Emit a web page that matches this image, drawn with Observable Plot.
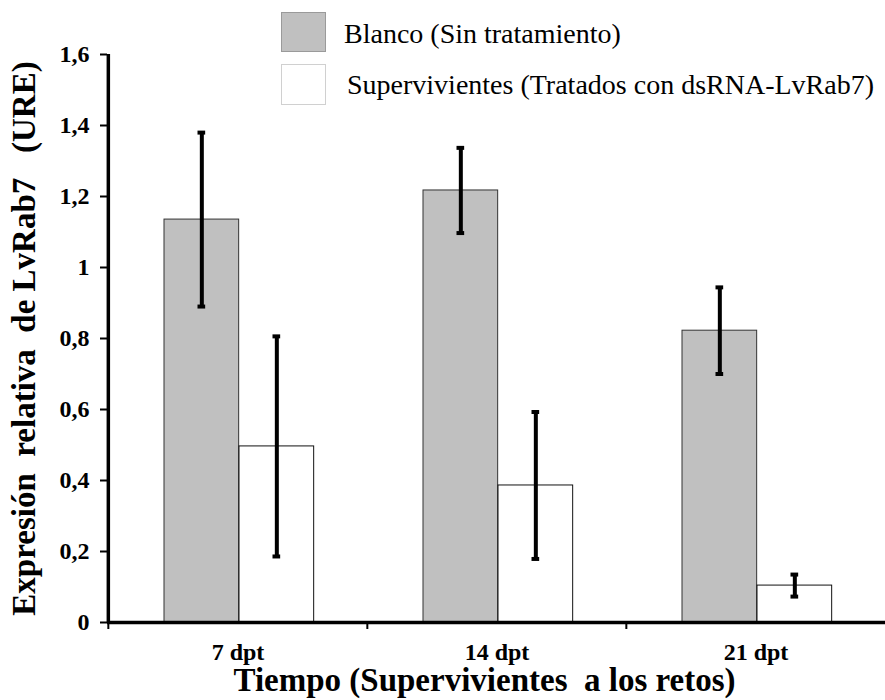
<!DOCTYPE html>
<html>
<head>
<meta charset="utf-8">
<script src="https://cdn.jsdelivr.net/npm/d3@7"></script>
<script src="https://cdn.jsdelivr.net/npm/@observablehq/plot@0.6"></script>
<style>
  html, body { margin: 0; padding: 0; background: #fff; }
  #wrap { position: relative; width: 885px; height: 700px; font-family: "Liberation Serif", "Times New Roman", serif; }
  .sw { position: absolute; left: 281px; width: 45px; box-sizing: border-box; }
  .lab { position: absolute; font-size: 28px; line-height: 28px; color: #000; white-space: nowrap; }
</style>
</head>
<body>
<div id="wrap">
  <div id="chart"></div>
  <div id="legend"></div>
</div>
<script>
const groups = ["7 dpt", "14 dpt", "21 dpt"];
const seriesNames = ["Blanco (Sin tratamiento)", "Supervivientes (Tratados con dsRNA-LvRab7)"];
const blancoValues = [1.135, 1.217, 0.822];
const blancoErrors = [0.245, 0.12, 0.122];
const supervValues = [0.496, 0.386, 0.104];
const supervErrors = [0.31, 0.207, 0.031];
const yTicks = [0, 0.2, 0.4, 0.6, 0.8, 1, 1.2, 1.4, 1.6];
const yTickLabels = ["0", "0,2", "0,4", "0,6", "0,8", "1", "1,2", "1,4", "1,6"];
const xTitle = "Tiempo (Supervivientes\u00a0 a los retos)";
const yTitle = "Expresión\u00a0 relativa\u00a0 de LvRab7\u00a0\u00a0 (URE)";

const blancoRows = groups.map((g, i) => ({group: g, value: blancoValues[i], lo: blancoValues[i] - blancoErrors[i], hi: blancoValues[i] + blancoErrors[i]}));
const supervRows = groups.map((g, i) => ({group: g, value: supervValues[i], lo: supervValues[i] - supervErrors[i], hi: supervValues[i] + supervErrors[i]}));

const W = 885, H = 700, ML = 107, MR = 0, MT = 54, MB = 78;
const bw = (W - ML - MR) / groups.length;
const barW = 75;
const gLeft = 56;               // grey bar offset inside band
const dxG = gLeft + barW / 2 - bw / 2;
const dxS = gLeft + barW + barW / 2 - bw / 2;
const capHalf = 4;

function errMarks(rows, dx) {
  return [
    Plot.ruleX(rows, {x: "group", y1: "lo", y2: "hi", dx, stroke: "#000", strokeWidth: 4}),
    Plot.tickY(rows, {x: "group", y: "lo", dx, stroke: "#000", strokeWidth: 4, insetLeft: bw / 2 - capHalf, insetRight: bw / 2 - capHalf}),
    Plot.tickY(rows, {x: "group", y: "hi", dx, stroke: "#000", strokeWidth: 4, insetLeft: bw / 2 - capHalf, insetRight: bw / 2 - capHalf})
  ];
}

const chart = Plot.plot({
  width: W, height: H,
  marginLeft: ML, marginRight: MR, marginTop: MT, marginBottom: MB,
  style: {fontFamily: "Liberation Serif, Times New Roman, serif", background: "transparent", color: "#000"},
  x: {type: "band", domain: groups, padding: 0},
  y: {domain: [0, 1.6]},
  marks: [
    Plot.barY(blancoRows, {x: "group", y: "value", fill: "#c0c0c0", stroke: "#333", strokeWidth: 1, insetLeft: gLeft, insetRight: bw - gLeft - barW}),
    Plot.barY(supervRows, {x: "group", y: "value", fill: "#fff", stroke: "#111", strokeWidth: 1, insetLeft: gLeft + barW, insetRight: bw - gLeft - 2 * barW}),
    ...errMarks(blancoRows, dxG),
    ...errMarks(supervRows, dxS),
    Plot.ruleY([0], {stroke: "#000", strokeWidth: 3.5}),
    Plot.ruleX(groups, {x: d => d, y1: 0, y2: 0, dx: -bw / 2, insetBottom: -7, stroke: "#000", strokeWidth: 2}),
    Plot.ruleX([groups[0]], {x: d => d, y1: 0, y2: 1.6, dx: -bw / 2, stroke: "#000", strokeWidth: 3.5}),
    Plot.axisY({ticks: yTicks, tickFormat: d => yTickLabels[yTicks.indexOf(d)], tickSize: 7, tickPadding: 11, strokeWidth: 2, fontSize: 24, fontWeight: "bold", label: null}),
    Plot.axisX({tickSize: 0, tickPadding: 20, fontSize: 24, fontWeight: "bold", label: null}),
    Plot.text([yTitle], {text: d => d, frameAnchor: "left", textAnchor: "middle", lineAnchor: "middle", rotate: -90, dx: -83, dy: 0, fontSize: 33, fontWeight: "bold", fill: "#000"}),
    Plot.text([xTitle], {text: d => d, frameAnchor: "bottom", lineAnchor: "middle", dy: 58, dx: -12, fontSize: 33, fontWeight: "bold", fill: "#000"})
  ]
});
document.getElementById("chart").appendChild(chart);

// legend (HTML, overlaid on top area)
const legend = document.getElementById("legend");
const swatches = [
  {top: 12, h: 40, fill: "#c0c0c0", border: "#9a9a9a", labelLeft: 344, labelTop: 20},
  {top: 64, h: 41, fill: "#ffffff", border: "#d0d0d0", labelLeft: 347, labelTop: 71}
];
seriesNames.forEach((name, i) => {
  const s = swatches[i];
  const sw = document.createElement("div");
  sw.className = "sw";
  sw.style.top = s.top + "px";
  sw.style.height = s.h + "px";
  sw.style.background = s.fill;
  sw.style.border = "1px solid " + s.border;
  legend.appendChild(sw);
  const lab = document.createElement("div");
  lab.className = "lab";
  lab.style.left = s.labelLeft + "px";
  lab.style.top = s.labelTop + "px";
  lab.textContent = name;
  legend.appendChild(lab);
});
</script>
</body>
</html>
